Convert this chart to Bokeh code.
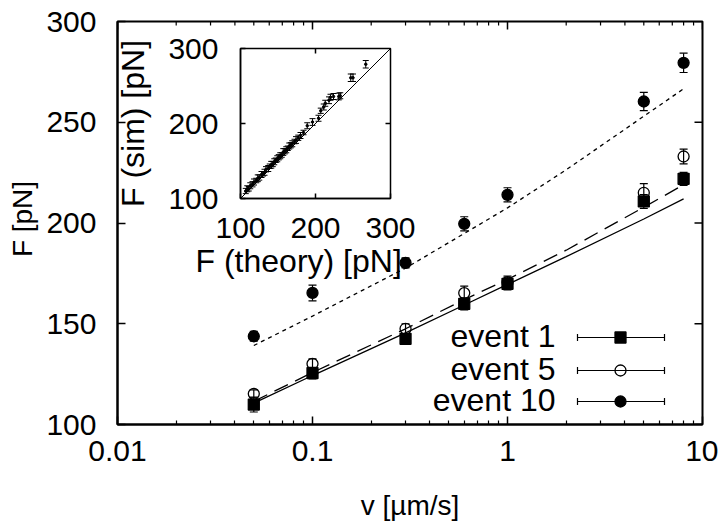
import math
from bokeh.plotting import figure
from bokeh.models import (ColumnDataSource, Whisker, TeeHead, FixedTicker,
                          CustomJSTickFormatter, Label, Title)
from bokeh.embed import file_html
from bokeh.resources import INLINE

# ---------------- data ----------------
velocity = [0.05, 0.1, 0.3, 0.6, 1, 5, 8]
force_event1 = [109.9, 125.5, 142.5, 159.9, 169.8, 210.7, 221.9]
error_event1 = [3.7, 2.9, 2.5, 3.0, 3.0, 3.4, 3.2]
force_event5 = [115.2, 130.1, 147.5, 165.2, 170.6, 215.0, 233.0]
error_event5 = [2.0, 2.5, 2.5, 3.5, 3.0, 4.5, 3.7]
force_event10 = [143.8, 165.3, 180.2, 199.6, 214.0, 260.3, 279.5]
error_event10 = [2.4, 3.9, 2.5, 3.5, 3.5, 4.5, 4.8]

theory_velocity = [0.05, 0.1, 0.3, 0.6, 1, 2, 5, 8]
theory_event1 = [110.6, 124.3, 145.5, 159.3, 169.5, 183.3, 202.0, 212.0]
theory_event5 = [111.5, 125.8, 147.5, 162.0, 172.0, 186.5, 207.8, 219.0]
theory_event10 = [139.2, 153.8, 177.6, 194.8, 207.5, 226.4, 253.0, 266.6]

x_ticks = [0.01, 0.1, 1, 10]
y_ticks = [100, 150, 200, 250, 300]
legend_labels = ["event 1", "event 5", "event 10"]

inset_theory = [107, 109, 111, 113, 116, 118, 121, 123, 125, 128, 130, 132, 134, 137, 139,
                141, 143, 145, 147, 149, 151, 153, 155, 157, 159, 161, 163, 165, 167, 169,
                172, 174, 177, 180, 184, 189, 196, 204, 207, 211, 213, 218, 220, 224, 231,
                233, 247, 250, 267]
inset_sim = [110, 113, 113, 117, 119, 122, 124, 127, 128, 132, 133, 135, 139, 140, 143,
             145, 146, 149, 151, 153, 155, 157, 158, 162, 163, 165, 167, 170, 171, 173,
             176, 178, 181, 184, 188, 197, 202, 207, 217, 222, 227, 231, 235, 236, 236,
             237, 261, 261, 279]
inset_error = [3.5, 4, 3, 4, 3.5, 4, 3, 4.5, 3.5, 4, 3, 4, 3.5, 4, 3, 4.5, 3.5, 4, 3, 4,
               3.5, 4, 3, 4.5, 3.5, 4, 3, 4, 3.5, 4, 3, 4.5, 3.5, 4, 3, 4, 4.5, 4, 3.5, 4,
               4, 4.5, 4, 4, 4.5, 4, 5, 5, 5]
inset_ticks = [100, 200, 300]
inset_diagonal = [100, 300]

# ---------------- layout constants ----------------
FONT = "Liberation Sans"
TICK_FS = "30px"
LABEL_FS = "28px"
BIG_FS = "32px"
W, H = 718, 525
MB = dict(left=117, right=16, top=21, bottom=101)
# main frame in page pixels (the page has no margin: roots sit at the top-left corner)
FL, FR_, FT, FB = MB["left"], W - MB["right"], MB["top"], H - MB["bottom"]


def v_at(px):
    return 10 ** (-2 + 3 * (px - FL) / (FR_ - FL))


def f_at(py):
    return 100 + 200 * (FB - py) / (FB - FT)


p = figure(width=W, height=H, x_axis_type="log", x_range=(0.01, 10), y_range=(100, 300),
           output_backend="svg", toolbar_location=None,
           min_border_left=MB["left"], min_border_right=MB["right"],
           min_border_top=MB["top"], min_border_bottom=MB["bottom"])
p.grid.visible = False
p.outline_line_color = "black"
p.outline_line_width = 2
p.background_fill_color = "white"
p.border_fill_color = "white"

minor_x = [m * 10.0 ** e for e in (-2, -1, 0) for m in range(2, 10)]
xticker = FixedTicker(ticks=x_ticks, minor_ticks=minor_x)
yticker = FixedTicker(ticks=y_ticks)


def style_axis(ax, tick_fs=TICK_FS, label_fs=LABEL_FS):
    ax.axis_line_color = "black"
    ax.axis_line_width = 2
    ax.major_tick_in = 8
    ax.major_tick_out = 0
    ax.minor_tick_in = 4
    ax.minor_tick_out = 0
    ax.major_tick_line_width = 1.5
    ax.minor_tick_line_width = 1.2
    ax.major_label_text_font = FONT
    ax.major_label_text_color = "black"
    ax.major_label_text_font_size = tick_fs
    ax.axis_label_text_font = FONT
    ax.axis_label_text_font_style = "normal"
    ax.axis_label_text_font_size = label_fs
    ax.axis_label_text_color = "black"


xax = p.xaxis[0]
xax.ticker = xticker
xax.formatter = CustomJSTickFormatter(code="return String(tick);")
style_axis(xax)
xax.major_label_standoff = 16
xax.axis_label = "v [µm/s]"
xax.axis_label_standoff = 26

yax = p.yaxis[0]
yax.ticker = yticker
style_axis(yax)
yax.minor_tick_line_color = None
yax.major_label_standoff = 21

# mirrored inward ticks on the top and right edges
p.ray(x=x_ticks, y=[300] * len(x_ticks), length=8, angle=-math.pi / 2,
      length_units="screen", line_color="black", line_width=1.5)
p.ray(x=minor_x, y=[300] * len(minor_x), length=4, angle=-math.pi / 2,
      length_units="screen", line_color="black", line_width=1.2)
p.ray(x=[10] * len(y_ticks), y=y_ticks, length=8, angle=math.pi,
      length_units="screen", line_color="black", line_width=1.5)

# theory curves
p.line(theory_velocity, theory_event1, line_color="black", line_width=1.3)
p.line(theory_velocity, theory_event5, line_color="black", line_width=1.3, line_dash="15 8")
p.line(theory_velocity, theory_event10, line_color="black", line_width=1.3, line_dash="4 4")

series = [
    (force_event1, error_event1, "square", 1.0),
    (force_event5, error_event5, "circle", 0.0),
    (force_event10, error_event10, "circle", 1.0),
]
for force, err, marker, falpha in series:
    src = ColumnDataSource(dict(
        v=velocity, f=force,
        lo=[a - b for a, b in zip(force, err)],
        hi=[a + b for a, b in zip(force, err)]))
    p.scatter("v", "f", source=src, marker=marker, size=11, line_color="black",
              line_width=1.3, fill_color="black", fill_alpha=falpha)
    p.add_layout(Whisker(base="v", lower="lo", upper="hi", source=src, line_width=1.2,
                         upper_head=TeeHead(size=8, line_width=1.2),
                         lower_head=TeeHead(size=8, line_width=1.2)))

# legend (text at left of the samples, gnuplot style)
legend_rows_px = [337, 370, 401]
markers = [("square", 1.0), ("circle", 0.0), ("circle", 1.0)]
for label, row_px, (marker, falpha) in zip(legend_labels, legend_rows_px, markers):
    p.add_layout(Label(x=v_at(555), y=f_at(row_px - 2), text=label, text_font=FONT,
                       text_font_size=BIG_FS, text_align="right",
                       text_baseline="middle", text_color="black"))
    lsrc = ColumnDataSource(dict(y=[f_at(row_px)], x0=[v_at(577)], x1=[v_at(664)],
                                 xm=[v_at(620)]))
    p.add_layout(Whisker(base="y", lower="x0", upper="x1", dimension="width", source=lsrc,
                         line_width=1.2, upper_head=TeeHead(size=7, line_width=1.2),
                         lower_head=TeeHead(size=7, line_width=1.2)))
    p.scatter("xm", "y", source=lsrc, marker=marker, size=11, line_color="black",
              line_width=1.3, fill_color="black", fill_alpha=falpha)

# ---------------- inset (separate root, absolutely positioned over the main plot) -----
IMB = dict(left=135, right=30, top=21, bottom=101)
IW, IH = IMB["left"] + 150 + IMB["right"], IMB["top"] + 150 + IMB["bottom"]
inset_frame_left, inset_frame_top = 240, 48

inset = figure(width=IW, height=IH, x_range=(100, 300), y_range=(100, 300),
               output_backend="svg", toolbar_location=None,
               min_border_left=IMB["left"], min_border_right=IMB["right"],
               min_border_top=IMB["top"], min_border_bottom=IMB["bottom"],
               styles={"position": "absolute",
                       "left": f"{inset_frame_left - IMB['left']}px",
                       "top": f"{inset_frame_top - IMB['top']}px"})
inset.grid.visible = False
inset.outline_line_color = "black"
inset.outline_line_width = 1.5
inset.background_fill_color = "white"
inset.border_fill_alpha = 0.0
iticker = FixedTicker(ticks=inset_ticks)
for ax in (inset.xaxis[0], inset.yaxis[0]):
    ax.ticker = iticker
    style_axis(ax, tick_fs=TICK_FS, label_fs=BIG_FS)
    ax.major_tick_in = 5
    ax.axis_line_width = 1.5
    ax.minor_tick_line_color = None
inset.xaxis[0].major_label_standoff = 19
inset.yaxis[0].major_label_standoff = 22
inset.yaxis[0].axis_label = "F (sim) [pN]"
inset.yaxis[0].axis_label_standoff = 14
# x label of the inset starts left of the inset frame, as in the reference
inset.add_layout(Title(text="F (theory) [pN]", align="left", offset=-45, standoff=0,
                       text_font=FONT, text_font_size=BIG_FS, text_font_style="normal",
                       text_color="black"), "below")

inset.ray(x=[300], y=[200], length=5, angle=math.pi, length_units="screen",
          line_color="black", line_width=1.5)
inset.ray(x=[200], y=[300], length=5, angle=-math.pi / 2, length_units="screen",
          line_color="black", line_width=1.5)

inset.line(inset_diagonal, inset_diagonal, line_color="black", line_width=1)
isrc = ColumnDataSource(dict(
    x=inset_theory, y=inset_sim,
    lo=[a - b for a, b in zip(inset_sim, inset_error)],
    hi=[a + b for a, b in zip(inset_sim, inset_error)]))
inset.scatter("x", "y", source=isrc, size=2.5, color="black")
inset.add_layout(Whisker(base="x", lower="lo", upper="hi", source=isrc, line_width=1,
                         upper_head=TeeHead(size=6, line_width=1),
                         lower_head=TeeHead(size=6, line_width=1)))

# ---------------- main y-axis title (small transparent root at the far left) -----------
YL_W, YL_H = 40, 437   # its vertical centre matches the reference label's centre
ylab = figure(width=YL_W, height=YL_H, x_range=(0, 1), y_range=(0, 1),
              output_backend="svg", toolbar_location=None, min_border=0,
              styles={"position": "absolute", "left": "4px", "top": "0px"})
ylab.axis.visible = False
ylab.grid.visible = False
ylab.outline_line_color = None
ylab.background_fill_alpha = 0.0
ylab.border_fill_alpha = 0.0
ylab.add_layout(Title(text="F [pN]", align="center", standoff=0, text_font=FONT,
                      text_font_size=LABEL_FS, text_font_style="normal",
                      text_color="black"), "left")

# independent roots, so that their borders are not aligned with each other
open("out.html", "w").write(file_html([p, inset, ylab], INLINE))
